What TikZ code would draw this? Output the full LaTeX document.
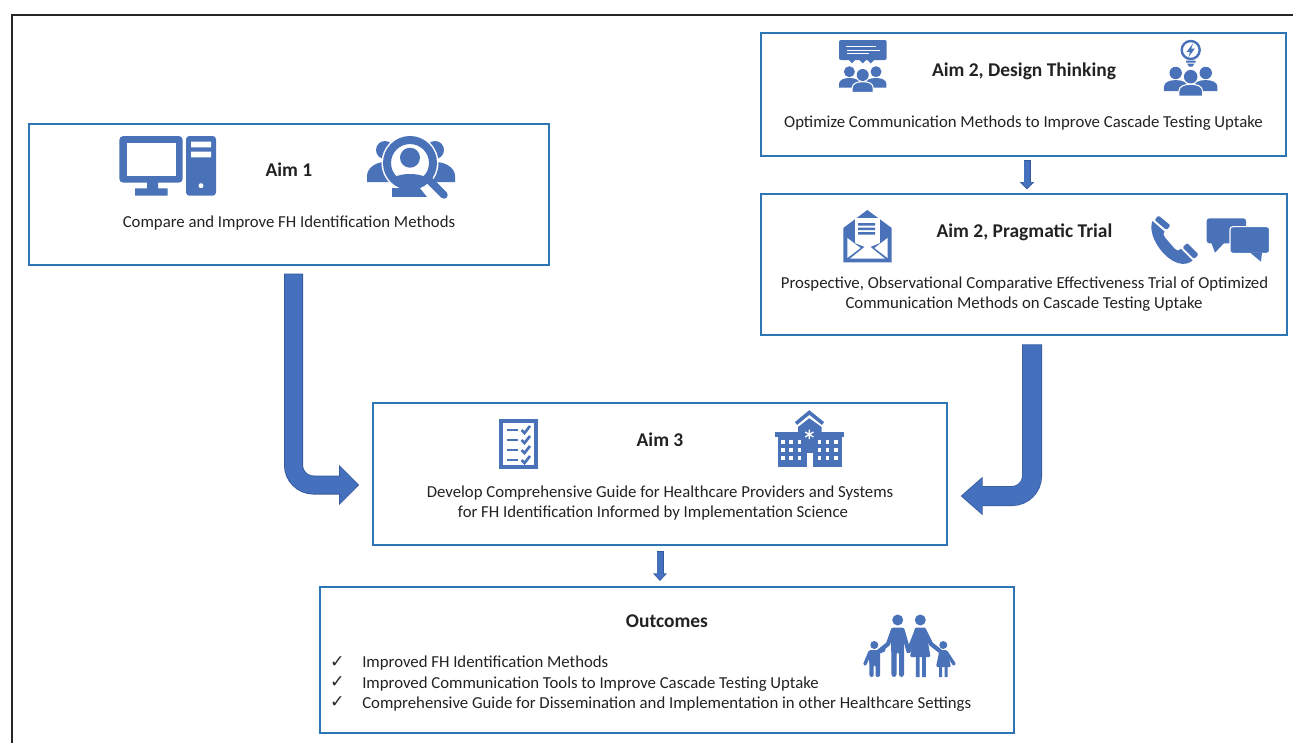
\documentclass[tikz,border=0pt]{standalone}
\usepackage{fontspec}
\setmainfont{Carlito}
\newfontfamily\symfont{DejaVu Sans}
\usetikzlibrary{arrows.meta,calc}
\definecolor{boxblue}{HTML}{2E75B6}
\definecolor{iconblue}{HTML}{4A72B9}
\definecolor{flowfill}{HTML}{4470BE}
\definecolor{flowedge}{HTML}{35589A}
\definecolor{inktext}{HTML}{222222}
\tikzset{
  aimbox/.style={draw=boxblue,line width=0.9pt,fill=none,rectangle,inner sep=0pt},
  bodytext/.style={text=inktext,font=\fontsize{12.57}{14}\selectfont,anchor=base,inner sep=0pt},
  headtext/.style={text=inktext,font=\fontsize{14.6}{16}\selectfont\bfseries,anchor=base,inner sep=0pt},
  listtext/.style={text=inktext,font=\fontsize{12.57}{14}\selectfont,anchor=base west,inner sep=0pt},
  ticktext/.style={text=black!85,font=\symfont\fontsize{13}{14}\selectfont,anchor=base,inner sep=0pt},
  flowouter/.style n args={2}{draw=flowedge,-{Triangle[length=#1,width=#2]}},
  flowinner/.style n args={2}{draw=flowfill,-{Triangle[length=#1,width=#2]}},
  icon/.style={fill=iconblue,draw=none},
  knock/.style={fill=white,draw=none},
  trio/.pic={
    \fill[icon] (-13.3,-3.3) circle[radius=5.5] (13.3,-3.3) circle[radius=5.5];
    \fill[icon] (-23.7,12.7) -- (-23.7,9) .. controls (-23.7,5) and (-19,3) .. (-13.3,3) .. controls (-7,3) and (-3,5) .. (-3,9) -- (-3,12.7) -- cycle;
    \fill[icon] (23.7,12.7) -- (23.7,9) .. controls (23.7,5) and (19,3) .. (13.3,3) .. controls (7,3) and (3,5) .. (3,9) -- (3,12.7) -- cycle;
    \fill[icon] (0,0) circle[radius=6];
    \path[icon,draw=white,line width=0.8pt] (-10.5,17.3) -- (-10.5,13) .. controls (-10.5,8.5) and (-6,6.7) .. (0,6.7) .. controls (6,6.7) and (10.5,8.5) .. (10.5,13) -- (10.5,17.3) -- cycle;
  }
}
\begin{document}
\begin{tikzpicture}[x=0.75pt,y=-0.75pt]
\useasboundingbox (0,0) rectangle (1293,743);
% page frame
\draw[draw=black!85,line width=1.5pt] (12,743) -- (12,15) -- (1293,15);

% boxes
\node[aimbox,minimum width=390pt,minimum height=105.75pt] (aimone) at (289,194.5) {};
\node[aimbox,minimum width=393.75pt,minimum height=92.25pt] (design) at (1023.5,94.5) {};
\node[aimbox,minimum width=394.5pt,minimum height=105.75pt] (pragma) at (1024,264.5) {};
\node[aimbox,minimum width=430.5pt,minimum height=106.5pt] (aimthree) at (660,474) {};
\node[aimbox,minimum width=520.5pt,minimum height=109.5pt] (outcomes) at (667,660) {};

% texts
\node[headtext] (t1) at (289,176.5) {Aim 1};
\node[bodytext] (t2) at (289,227.5) {Compare and Improve FH Identification Methods};
\node[headtext] (t3) at (1024,76.5) {Aim 2, Design Thinking};
\node[bodytext] (t4) at (1023.5,127.5) {Optimize Communication Methods to Improve Cascade Testing Uptake};
\node[headtext] (t5) at (1024.5,237) {Aim 2, Pragmatic Trial};
\node[bodytext] (t6) at (1024.5,288.5) {Prospective, Observational Comparative Effectiveness Trial of Optimized};
\node[bodytext] (t7) at (1024,308.5) {Communication Methods on Cascade Testing Uptake};
\node[headtext] (t8) at (660,446.5) {Aim 3};
\node[bodytext] (t9) at (660,497.5) {Develop Comprehensive Guide for Healthcare Providers and Systems};
\node[bodytext] (t10) at (653,517.5) {for FH Identification Informed by Implementation Science};
\node[headtext] (t11) at (667,627.5) {Outcomes};
\node[listtext] (l1) at (362,667.5) {Improved FH Identification Methods};
\node[listtext] (l2) at (362,688.5) {Improved Communication Tools to Improve Cascade Testing Uptake};
\node[listtext] (l3) at (362,708.5) {Comprehensive Guide for Dissemination and Implementation in other Healthcare Settings};
\node[ticktext] (c1) at (337.5,667) {✓};
\node[ticktext] (c2) at (337.5,687) {✓};
\node[ticktext] (c3) at (337.5,707) {✓};

% connectors
\coordinate (xa) at (293.5,0);
\coordinate (ya) at (0,485);
\coordinate (xb) at (1032,0);
\coordinate (yb) at (0,496);
\coordinate (xc) at (1027,0);
\coordinate (xd) at (660,0);
\draw[flowouter={15pt}{29.25pt},line width=14.25pt,rounded corners=15pt,shorten <=6pt,shorten >=10pt]
  (aimone.south -| xa) -- (ya -| xa) -- (aimthree.west |- ya);
\draw[flowinner={13.6pt}{26.6pt},line width=13pt,rounded corners=15pt,shorten <=6.5pt,shorten >=10.8pt]
  (aimone.south -| xa) -- (ya -| xa) -- (aimthree.west |- ya);
\draw[flowouter={16.5pt}{27.75pt},line width=15pt,rounded corners=15pt,shorten <=6.5pt,shorten >=9.75pt]
  (pragma.south -| xb) -- (yb -| xb) -- (aimthree.east |- yb);
\draw[flowinner={15.2pt}{25.4pt},line width=14pt,rounded corners=15pt,shorten <=7pt,shorten >=10.5pt]
  (pragma.south -| xb) -- (yb -| xb) -- (aimthree.east |- yb);
\draw[flowouter={5.5pt}{10.5pt},line width=5.25pt,shorten <=2.6pt,shorten >=3pt] (design.south -| xc) -- (pragma.north -| xc);
\draw[flowinner={4.5pt}{8.6pt},line width=3.8pt,shorten <=3.2pt,shorten >=3.7pt] (design.south -| xc) -- (pragma.north -| xc);
\draw[flowouter={5.75pt}{10pt},line width=5.25pt,shorten <=4.2pt,shorten >=4pt] (aimthree.south -| xd) -- (outcomes.north -| xd);
\draw[flowinner={4.7pt}{8.2pt},line width=3.8pt,shorten <=4.8pt,shorten >=4.7pt] (aimthree.south -| xd) -- (outcomes.north -| xd);

% computer icon
\fill[icon,rounded corners=3pt] (119.3,136) rectangle (182.7,182.7);
\fill[knock] (126.7,143.3) rectangle (176,175.7);
\fill[icon] (147,182) rectangle (158,190) (135,188.3) rectangle (167.7,195.7);
\fill[icon,rounded corners=2.5pt] (186,136) rectangle (216,195.7);
\fill[knock] (191,141.7) rectangle (211,147.3) (191,151.7) rectangle (211,157.3) (201,185.7) circle[radius=2.5];

% people under magnifier
\fill[icon] (385,150) circle[radius=9] (435,150) circle[radius=9];
\fill[icon] (367,182) -- (367,176) .. controls (367,168) and (376,162) .. (385,162) -- (400,170) -- (400,182) -- cycle;
\fill[icon] (455,182) -- (455,176) .. controls (455,168) and (446,162) .. (435,162) -- (420,170) -- (420,182) -- cycle;
\fill[knock] (410,163) circle[radius=28.5];
\fill[icon] (392,197) -- (392,188) -- (428,188) -- (428,197) -- cycle;
\fill[knock] (425,178) -- (436,188) -- (436,198) -- (428,198) -- (420,188) -- cycle;
\draw[draw=iconblue,line width=6pt] (410,163) circle[radius=23];
\begin{scope}
  \clip (410,163) circle[radius=23];
  \fill[icon] (410,157.7) circle[radius=10];
  \fill[icon] (386,190) .. controls (386,178) and (398,174) .. (410,174) .. controls (422,174) and (434,178) .. (434,190) -- cycle;
\end{scope}
\draw[draw=iconblue,line width=5.6pt,line cap=round] (429,180) -- (444,195);

% speech bubble and group
\fill[icon,rounded corners=1.5pt] (839,40) rectangle (886.7,60);
\fill[icon] (848,59) -- (852,63.3) -- (856,59) -- cycle (858.5,59) -- (862.7,63.3) -- (867,59) -- cycle (866.5,59) -- (870.7,63.3) -- (875,59) -- cycle;
\draw[draw=white,line width=0.7pt] (846,46.7) -- (876,46.7) (847,50) -- (880,50) (847,53.5) -- (869,53.5);
\pic at (862.7,75) {trio};

% bulb and group
\pic[scale=1.13] at (1190.7,76.7) {trio};
\draw[draw=iconblue,line width=1.8pt] (1190.7,50) circle[radius=9];
\fill[icon] (1193,43.5) -- (1186.5,52) -- (1190,52) -- (1188.5,57) -- (1195,48.5) -- (1191.3,48.5) -- cycle;
\fill[icon] (1186,60.5) -- (1195.5,60.5) -- (1195.5,62.5) -- (1186,62.5) -- cycle (1187,63.5) -- (1194.5,63.5) -- (1192.5,66.5) -- (1189,66.5) -- cycle;

% envelope
\fill[icon] (843.3,262.3) -- (843.3,228) -- (867.3,210) -- (891.7,228) -- (891.7,262.3) -- cycle;
\fill[knock] (855,218.3) rectangle (880,243);
\fill[knock] (855,243) -- (867.5,248) -- (880,243) -- cycle;
\fill[icon] (858,223) rectangle (875,225.5) (858,227.5) rectangle (875,230) (858,232) rectangle (875,234.5);
\fill[knock] (847.3,238) -- (847.3,258) -- (860.5,248) -- cycle (887.5,238) -- (887.5,258) -- (874.5,248) -- cycle;
\fill[knock] (850,258.7) -- (867.5,244.5) -- (885,258.7) -- cycle;

% telephone
\fill[icon,rounded corners=1pt] (1158.5,215.5) -- (1170.5,225.5) -- (1166.5,230) -- (1154.5,220) -- cycle;
\fill[icon,rounded corners=1pt] (1187,243) -- (1198.5,254.5) -- (1194,259) -- (1182.5,247.5) -- cycle;
\fill[icon] (1152.5,221) .. controls (1147,234) and (1162,258) .. (1178,263) .. controls (1184,265) and (1189,263.5) .. (1192.5,260.5) -- (1181,249) .. controls (1179,251) and (1176.5,251) .. (1175,249) -- (1165,237.5) .. controls (1163,235) and (1163,233) .. (1164.5,231.5) -- cycle;

% chat bubbles
\fill[icon,rounded corners=2pt] (1206.7,218.3) rectangle (1246,243.3);
\fill[icon] (1211,242) -- (1215,252.7) -- (1225,242) -- cycle;
\path[icon,draw=white,line width=0.8pt,rounded corners=2pt] (1230,226.7) rectangle (1269.5,253.3);
\fill[icon] (1250,252.5) -- (1261,261.7) -- (1262,252.5) -- cycle;

% checklist
\fill[icon] (499,419) rectangle (538.3,469);
\fill[knock] (503.3,423.3) rectangle (534,465);
\foreach \rowy in {429,439,449,459}{
  \draw[draw=iconblue,line width=1.9pt] (506.7,\rowy+1) -- (518.3,\rowy+1);
  \draw[draw=iconblue,line width=2pt] (521.5,\rowy+1) -- (524.5,\rowy+4) -- (530,\rowy-3);
}

% hospital
\fill[icon] (777.7,436) rectangle (842.3,467.3);
\fill[icon] (775,432.3) rectangle (844,436.7);
\fill[icon] (798,437) -- (798,427) -- (809.3,418.3) -- (821.7,427) -- (821.7,437) -- cycle;
\draw[draw=iconblue,line width=2.7pt] (796,423.5) -- (809.3,412.5) -- (823,423.5);
\foreach \winx in {782.7,790.7,799.3,819.3,827.3,835.7}{
  \foreach \winy in {441.7,450,457.7}{
    \fill[knock] (\winx-1.8,\winy-1.8) rectangle (\winx+1.8,\winy+1.8);
  }
}
\fill[knock] (806.7,452.7) rectangle (812.7,467.3);
\draw[draw=white,line width=1pt] (809.3,429.5) -- (809.3,439) (805.2,432) -- (813.4,437) (805.2,437) -- (813.4,432);

% family
\fill[icon] (897.7,620) circle[radius=5.5] (920.3,620) circle[radius=5.5] (874.3,645) circle[radius=4] (943.3,645) circle[radius=4];
% father
\fill[icon,rounded corners=2pt] (891,627.5) -- (904,627.5) -- (904,677) -- (899,677) -- (899,652) -- (896.5,652) -- (896.5,677) -- (891.5,677) -- cycle;
\draw[draw=iconblue,line width=3.2pt,line cap=round,line join=round] (893,630) -- (888,644) -- (878,652);
\draw[draw=iconblue,line width=3.2pt,line cap=round,line join=round] (902.5,630) -- (908.5,651);
% mother
\fill[icon,rounded corners=1pt] (915,627.5) -- (925.5,627.5) -- (930.5,657) -- (910,657) -- cycle;
\fill[icon] (915.8,655) rectangle (919.6,677) (922,655) rectangle (925.8,677);
\draw[draw=iconblue,line width=3.2pt,line cap=round,line join=round] (917,630) -- (908.5,651);
\draw[draw=iconblue,line width=3.2pt,line cap=round,line join=round] (924,630) -- (931,644) -- (940,651);
% left child
\fill[icon,rounded corners=1.5pt] (869,650) -- (880,650) -- (880,677) -- (875.6,677) -- (875.6,665) -- (873.6,665) -- (873.6,677) -- (869.5,677) -- cycle;
\draw[draw=iconblue,line width=2.6pt,line cap=round,line join=round] (870,652) -- (865,664);
\draw[draw=iconblue,line width=2.6pt,line cap=round] (879,652) -- (884,650);
% right child
\fill[icon,rounded corners=1pt] (939.5,650) -- (947,650) -- (951,667) -- (936,667) -- cycle;
\fill[icon] (939,665) rectangle (942,677) (944.5,665) rectangle (947.5,677);
\draw[draw=iconblue,line width=2.6pt,line cap=round,line join=round] (946,652) -- (954,664);
\end{tikzpicture}
\end{document}
